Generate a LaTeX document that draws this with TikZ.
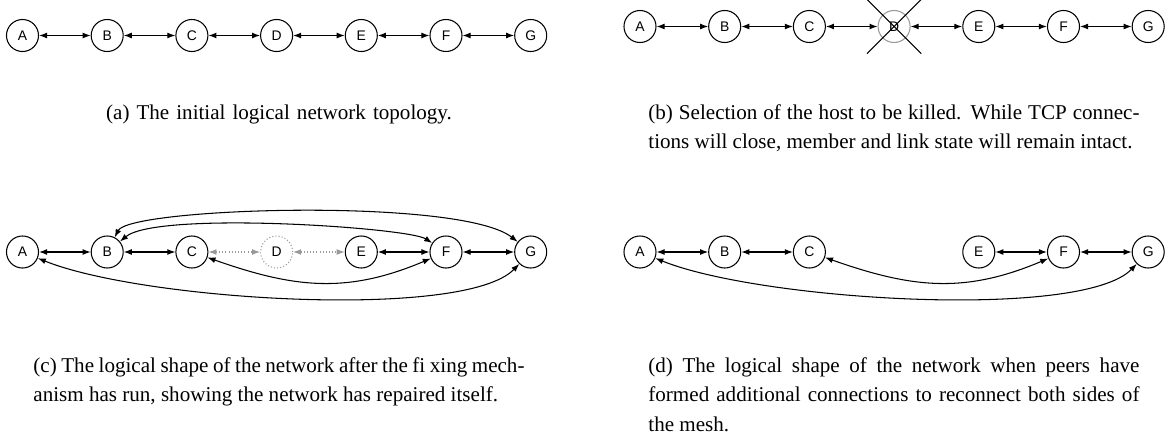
\documentclass[tikz,border=0pt]{standalone}
\usepackage{fontspec}
\setmainfont{Liberation Serif}
\setsansfont{Liberation Sans}
\usetikzlibrary{arrows.meta,shapes.misc}

\definecolor{lost}{gray}{0.6}

\begin{document}
\begin{tikzpicture}[x=0.4745pt,y=0.4745pt,
    link/.style={line width=0.5pt,
      {Latex[length=3.8pt,width=2.8pt]}-{Latex[length=3.8pt,width=2.8pt]}},
    deadlink/.style={link,lost,densely dotted},
    caption/.style={text width=233pt,align=justify,inner sep=0pt,
      font=\fontsize{10}{14.2}\selectfont}]

  \useasboundingbox (0,0) rectangle (1167,438);

  \begin{scope}[every node/.style={circle,draw,line width=0.5pt,minimum size=15.2pt,
      inner sep=0pt,font=\sffamily\fontsize{6.6}{7}\selectfont}]
    % (a) initial chain
    \node (aA) at (22.5,402.5) {A};
    \node (aB) at (107.2,402.5) {B};
    \node (aC) at (191.9,402.5) {C};
    \node (aD) at (276.6,402.5) {D};
    \node (aE) at (361.3,402.5) {E};
    \node (aF) at (446,402.5) {F};
    \node (aG) at (530.7,402.5) {G};
    % (b) host to kill
    \node (bA) at (640,411.5) {A};
    \node (bB) at (724.7,411.5) {B};
    \node (bC) at (809.4,411.5) {C};
    \node[draw=lost] (bD) at (894.1,411.5) {D};
    \node (bE) at (978.8,411.5) {E};
    \node (bF) at (1063.5,411.5) {F};
    \node (bG) at (1148.2,411.5) {G};
    % (c) after repair
    \node (cA) at (22.5,186) {A};
    \node (cB) at (107.2,186) {B};
    \node (cC) at (191.9,186) {C};
    \node[draw=lost,densely dotted] (cD) at (276.6,186) {D};
    \node (cE) at (361.3,186) {E};
    \node (cF) at (446,186) {F};
    \node (cG) at (530.7,186) {G};
    % (d) extra connections
    \node (dA) at (640,186) {A};
    \node (dB) at (724.7,186) {B};
    \node (dC) at (809.4,186) {C};
    \node (dE) at (978.8,186) {E};
    \node (dF) at (1063.5,186) {F};
    \node (dG) at (1148.2,186) {G};
  \end{scope}

  \node[cross out,draw,line width=0.5pt,minimum size=25.2pt,inner sep=0pt] (kill) at (bD) {};

  \begin{scope}[every edge/.style={draw,link}]
    \path (aA) edge (aB);
    \path (aB) edge (aC);
    \path (aC) edge (aD);
    \path (aD) edge (aE);
    \path (aE) edge (aF);
    \path (aF) edge (aG);

    \path (bA) edge (bB);
    \path (bB) edge (bC);
    \path (bC) edge (bD);
    \path (bD) edge (bE);
    \path (bE) edge (bF);
    \path (bF) edge (bG);

    \path (cA) edge (cB);
    \path (cB) edge (cC);
    \path (cE) edge (cF);
    \path (cF) edge (cG);
    \path (cC) edge[deadlink] (cD);
    \path (cD) edge[deadlink] (cE);

    \path (dA) edge (dB);
    \path (dB) edge (dC);
    \path (dE) edge (dF);
    \path (dF) edge (dG);
  \end{scope}

  % repair links
  \draw[link] (cB) .. controls +(63:50) and +(142:89) .. (cG);
  \draw[link] (cB) .. controls +(39.5:65) and +(147:45) .. (cF);
  \draw[link] (cC) .. controls +(-19.4:108) and +(-157:108) .. (cF);
  \draw[link] (cA) .. controls +(-22:130) and +(-134:95) .. (cG);

  \draw[link] (dC) .. controls +(-19.4:108) and +(-157:108) .. (dF);
  \draw[link] (dA) .. controls +(-22:130) and +(-134:95) .. (dG);

  \node[caption,align=center,anchor=base] (capa) at (279,319)
    {(a) The initial logical network topology.};
  \node[caption,anchor=base west] (capb) at (648,319)
    {(b) Selection of the host to be killed. While TCP connec-\linebreak
     tions will close, member and link state will remain intact.};
  \node[caption,anchor=base west] (capc) at (33,66)
    {(c) The logical shape of the network after the fi xing mech-\linebreak
     anism has run, showing the network has repaired itself.};
  \node[caption,anchor=base west] (capd) at (648,66)
    {(d) The logical shape of the network when peers have\linebreak
     formed additional connections to reconnect both sides of\linebreak
     the mesh.};

\end{tikzpicture}
\end{document}
